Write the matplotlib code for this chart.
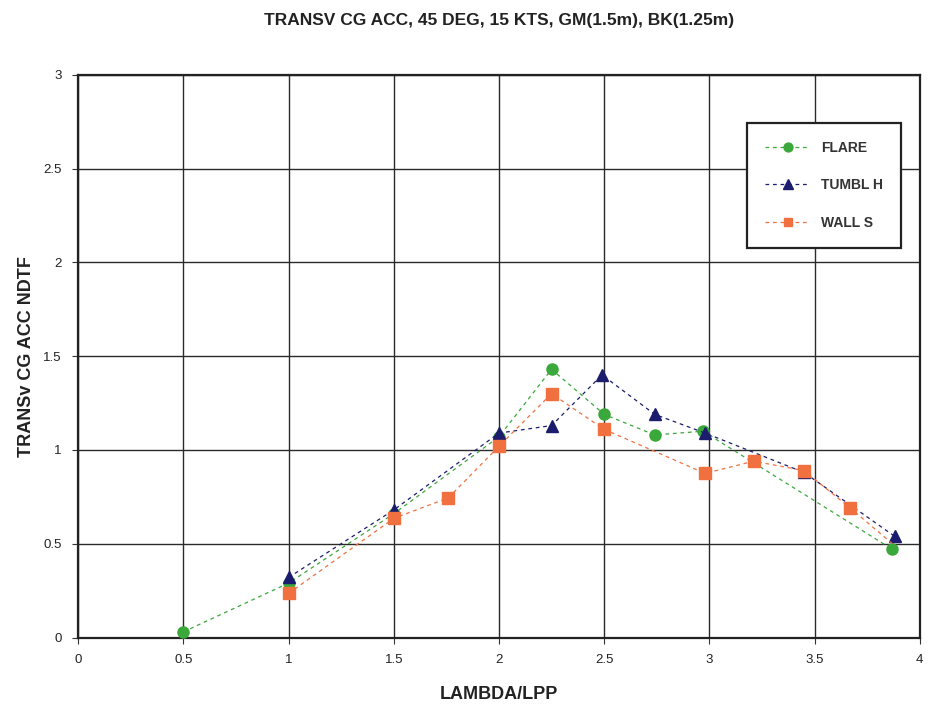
import numpy as np
import matplotlib.pyplot as plt

plt.rcParams['font.family'] = ['Liberation Sans', 'DejaVu Sans']

# Data
flare_x = [0.5, 1.0, 1.5, 2.0, 2.25, 2.5, 2.74, 2.97, 3.87]
flare_y = [0.03, 0.29, 0.66, 1.07, 1.43, 1.19, 1.08, 1.10, 0.47]

tumbl_x = [1.0, 1.5, 2.0, 2.25, 2.49, 2.74, 2.98, 3.45, 3.88]
tumbl_y = [0.32, 0.68, 1.09, 1.13, 1.40, 1.19, 1.09, 0.88, 0.54]

wall_x = [1.0, 1.5, 1.76, 2.0, 2.25, 2.5, 2.98, 3.21, 3.45, 3.67, 3.87]
wall_y = [0.235, 0.635, 0.745, 1.02, 1.30, 1.11, 0.875, 0.94, 0.89, 0.69, 0.50]

fig = plt.figure(figsize=(9.3, 7.06), dpi=100)
ax = fig.add_axes([0.084, 0.097, 0.905, 0.797])

dash = (0, (3, 3))
ax.plot(flare_x, flare_y, linestyle=dash, lw=0.9, color='#3aa83a',
        marker='o', markersize=8, label='FLARE', zorder=3)
ax.plot(tumbl_x, tumbl_y, linestyle=dash, lw=0.9, color='#1c1c6e',
        marker='^', markersize=9, label='TUMBL H', zorder=4)
# last WALL S point sits hidden behind the other markers
ax.plot(wall_x, wall_y, linestyle=dash, lw=0.9, color='#f07040',
        marker='s', markersize=8, label='WALL S', zorder=5,
        markevery=list(range(len(wall_x) - 1)))

ax.set_xlim(0, 4)
ax.set_ylim(0, 3)
ax.set_xticks(np.arange(0, 4.01, 0.5))
ax.set_yticks(np.arange(0, 3.01, 0.5))
ax.set_xticklabels(['0', '0.5', '1', '1.5', '2', '2.5', '3', '3.5', '4'])
ax.set_yticklabels(['0', '0.5', '1', '1.5', '2', '2.5', '3'])
ax.tick_params(labelsize=9.5, length=4, color='#333333', pad=8, labelcolor='#222222')
ax.grid(True, color='#2a2a2a', lw=1.0)
for s in ax.spines.values():
    s.set_color('#222222')
    s.set_linewidth(1.6)

ax.set_xlabel('LAMBDA/LPP', fontsize=13, fontweight='bold', labelpad=14, color='#222222')
ax.set_ylabel('TRANSv CG ACC NDTF', fontsize=13, fontweight='bold', labelpad=6, color='#222222')
fig.text(0.537, 0.971, 'TRANSV CG ACC, 45 DEG, 15 KTS, GM(1.5m), BK(1.25m)',
         fontsize=12.5, fontweight='bold', ha='center', va='center', color='#222222')

leg = ax.legend(loc='upper left', bbox_to_anchor=(0.795, 0.915), fontsize=10,
                frameon=True, fancybox=False, framealpha=1, borderpad=1.3,
                labelspacing=1.7, handlelength=3.2, borderaxespad=0, markerscale=0.8)
leg.get_frame().set_edgecolor('#222222')
leg.get_frame().set_linewidth(1.6)
leg.set_zorder(10)
for t in leg.get_texts():
    t.set_fontweight('bold')
    t.set_color('#333333')

fig.savefig('out.png', dpi=100)
